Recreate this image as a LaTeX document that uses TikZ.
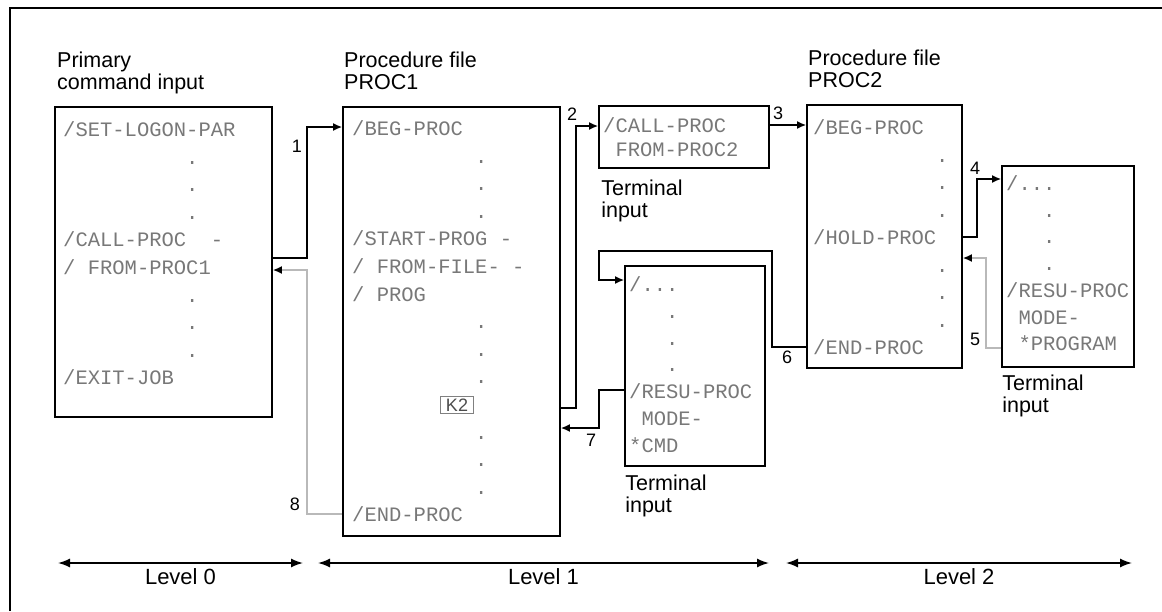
\documentclass[tikz,border=0pt]{standalone}
\usepackage{fontspec}
\setmainfont{Liberation Sans}
\setmonofont{Liberation Mono}
\usetikzlibrary{arrows.meta,positioning}
\definecolor{codegray}{RGB}{120,120,120}
\newcommand\dcol{~~~~~~~~~~.}
\newcommand\dsh{~~~.}
\newcommand\slashdots{/...}

\begin{document}
\begin{tikzpicture}[
    x=1pt,y=-1pt,
    box/.style={draw,line width=1.8pt,inner sep=0pt},
    code/.style={anchor=base west,inner sep=0pt,text=codegray,font=\fontsize{20.5}{24}\ttfamily},
    title/.style={anchor=north west,align=left,inner sep=0pt,font=\fontsize{21.5}{22}\selectfont},
    num/.style={inner sep=0pt,font=\fontsize{18}{18}\selectfont},
    arr/.style={-{Latex[length=9pt,width=8pt]},line width=1.5pt},
    ret/.style={-{Latex[length=9pt,width=8pt,color=black]},line width=1.5pt,draw=gray!55},
    lvl/.style={{Latex[length=12pt,width=9pt]}-{Latex[length=12pt,width=9pt]},line width=1.5pt}
]
\useasboundingbox (0,0) rectangle (1162,611);
\draw[line width=1.8pt] (10,611) -- (10,8) -- (1162,8);

% boxes
\node[box,minimum width=217,minimum height=310] (prim) at (163.5,262) {};
\node[box,minimum width=217,minimum height=429] (p1) at (451.5,321.5) {};
\node[box,minimum width=170,minimum height=62] (t1) at (684,137) {};
\node[box,minimum width=155,minimum height=263] (p2) at (884.5,236.5) {};
\node[box,minimum width=140,minimum height=200] (t2) at (695,366) {};
\node[box,minimum width=132,minimum height=201] (t3) at (1068,266.5) {};

% titles
\node[title] (prim-t) at (57,52) {Primary\\command input};
\node[title] (p1-t) at (344,52) {Procedure file\\PROC1};
\node[title] (p2-t) at (808,50) {Procedure file\\PROC2};
\node[title,below right=11pt and 3pt of t1.south west] (t1-t) {Terminal\\input};
\node[title,below right=8pt and 1pt of t2.south west] (t2-t) {Terminal\\input};
\node[title,below right=7pt and 1pt of t3.south west] (t3-t) {Terminal\\input};

% box contents
\foreach \t [count=\i from 0] in {/SET-LOGON-PAR,\dcol,\dcol,\dcol,/CALL-PROC~~-,/~FROM-PROC1,\dcol,\dcol,\dcol,/EXIT-JOB}
    \node[code] (prim-\i) at (63,136.5+27.6*\i) {\t};
\foreach \t [count=\i from 0] in {/BEG-PROC,\dcol,\dcol,\dcol,/START-PROG~-,/~FROM-FILE-~-,/~PROG,\dcol,\dcol,\dcol,~,\dcol,\dcol,\dcol,/END-PROC}
    \node[code] (p1-\i) at (352,135.5+27.6*\i) {\t};
\foreach \t [count=\i from 0] in {/BEG-PROC,\dcol,\dcol,\dcol,/HOLD-PROC,\dcol,\dcol,\dcol,/END-PROC}
    \node[code] (p2-\i) at (813,134.5+27.5*\i) {\t};
\foreach \t [count=\i from 0] in {/CALL-PROC,~FROM-PROC2}
    \node[code] (t1-\i) at (603,132.5+24*\i) {\t};
\foreach \t [count=\i from 0] in {\slashdots,\dsh,\dsh,\dsh,/RESU-PROC,~MODE-,*CMD}
    \node[code] (t2-\i) at (629,291.5+26.8*\i) {\t};
\foreach \t [count=\i from 0] in {\slashdots,\dsh,\dsh,\dsh,/RESU-PROC,~MODE-,~*PROGRAM}
    \node[code] (t3-\i) at (1006,190.5+26.7*\i) {\t};
\node[draw=gray,line width=1pt,inner xsep=5pt,inner ysep=2.5pt,text=black!70,font=\fontsize{18}{18}\selectfont] (k2) at (457,405) {K2};

% flow
\draw[arr] (prim.east |- 0,258) -| (307,127) -- (p1.west |- 0,127);
\draw[arr] (p1.east |- 0,408) -| (576,126) -- (t1.west |- 0,126);
\draw[arr] (t1.east |- 0,125) -- (p2.west |- 0,125);
\draw[arr] (p2.east |- 0,237) -| (977,179) -- (t3.west |- 0,179);
\draw[ret] (t3.west |- 0,348) -| (986,258) -- (p2.east |- 0,258);
\draw[arr] (p2.west |- 0,347) -| (772,251) -| (599,280) -- (t2.west |- 0,280);
\draw[arr] (t2.west |- 0,390) -| (599,428) -- (p1.east |- 0,428);
\draw[ret] (p1.west |- 0,514) -| (307,270) -- (prim.east |- 0,270);

\node[num] (n1) at (297,146) {1};
\node[num] (n2) at (572,114) {2};
\node[num] (n3) at (778,113) {3};
\node[num] (n4) at (975,168) {4};
\node[num] (n5) at (975,339) {5};
\node[num] (n6) at (787,357) {6};
\node[num] (n7) at (591,440) {7};
\node[num] (n8) at (295,504) {8};

% levels
\coordinate (l0a) at (58,563);
\coordinate (l0b) at (303,563);
\coordinate (l1a) at (318,563);
\coordinate (l1b) at (769,563);
\coordinate (l2a) at (786,563);
\coordinate (l2b) at (1132,563);
\draw[lvl] (l0a) -- node[below=1pt,font=\fontsize{22}{22}\selectfont] (lv0) {Level 0} (l0b);
\draw[lvl] (l1a) -- node[below=1pt,font=\fontsize{22}{22}\selectfont] (lv1) {Level 1} (l1b);
\draw[lvl] (l2a) -- node[below=1pt,font=\fontsize{22}{22}\selectfont] (lv2) {Level 2} (l2b);
\end{tikzpicture}
\end{document}
